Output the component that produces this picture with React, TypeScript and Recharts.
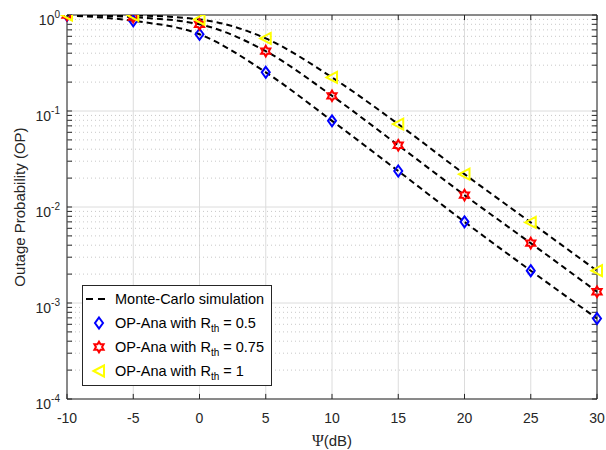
import React from 'react';
import {
  ComposedChart,
  Line,
  Scatter,
  XAxis,
  YAxis,
  CartesianGrid,
  ReferenceLine,
  ReferenceArea,
  Legend,
} from 'recharts';

// ---- data ----
const psiDb = [-10, -5, 0, 5, 10, 15, 20, 25, 30];
const opRth05 = [0.99, 0.87, 0.63, 0.253, 0.079, 0.0237, 0.0070, 0.00217, 0.00069];
const opRth075 = [1.0, 0.95, 0.8, 0.42, 0.144, 0.044, 0.0133, 0.0042, 0.00131];
const opRth1 = [1.0, 0.99, 0.9, 0.57, 0.224, 0.073, 0.022, 0.0069, 0.00217];

const xTicks = [-10, -5, 0, 5, 10, 15, 20, 25, 30];
const yTicks = [1e-4, 1e-3, 1e-2, 1e-1, 1];
const minorDecades = [1e-4, 1e-3, 1e-2, 1e-1];
const minorMantissas = [2, 3, 4, 5, 6, 7, 8, 9];

const legendLabels = ['Monte-Carlo simulation', '0.5', '0.75', '1'];

const table = psiDb.map((x, i) => ({ x, a: opRth05[i], b: opRth075[i], c: opRth1[i] }));
const minorTicks: number[] = [];
minorDecades.forEach((d) => minorMantissas.forEach((m) => minorTicks.push(m * d)));

const X_MIN = -10;
const X_MAX = 30;
const Y_MIN = 1e-4;
const Y_MAX = 1;
const xTickLen = 0.38; // in x data units (~5px)
const yTickFactor = 1.13; // log factor (~5px)

const FONT = '"Liberation Sans", Arial, Helvetica, sans-serif';
const AX = '#262626';

// ---- marker shapes ----
const Diamond = ({ cx, cy }: any) => (
  <path
    d={`M${cx},${cy - 5.5} L${cx + 4},${cy} L${cx},${cy + 5.5} L${cx - 4},${cy} Z`}
    fill="none"
    stroke="#0000FF"
    strokeWidth={2}
  />
);

const Hexagram = ({ cx, cy }: any) => {
  const R = 5.3;
  const r = R / Math.sqrt(3);
  const pts: string[] = [];
  for (let i = 0; i < 12; i++) {
    const ang = (-90 + i * 30) * (Math.PI / 180);
    const rad = i % 2 === 0 ? R : r;
    pts.push(`${cx + rad * Math.cos(ang)},${cy + rad * Math.sin(ang)}`);
  }
  return <polygon points={pts.join(' ')} fill="none" stroke="#FF0000" strokeWidth={2} />;
};

const TriLeft = ({ cx, cy }: any) => (
  <polygon
    points={`${cx - 5.5},${cy} ${cx + 5},${cy - 5.5} ${cx + 5},${cy + 5.5}`}
    fill="none"
    stroke="#FFFF00"
    strokeWidth={2}
  />
);

// ---- ticks ----
const YTick = (props: any) => {
  const { x, y, payload } = props;
  const exp = Math.round(Math.log10(payload.value));
  return (
    <text x={x} y={y + 10} textAnchor="end" fill={AX} fontSize={14} fontFamily={FONT}>
      <tspan>10</tspan>
      <tspan dy={-7} fontSize={10}>
        {exp}
      </tspan>
    </text>
  );
};

const XTick = (props: any) => {
  const { x, y, payload } = props;
  return (
    <text x={x} y={y + 24} textAnchor="middle" fill={AX} fontSize={14} fontFamily={FONT}>
      {payload.value}
    </text>
  );
};

const YLabel = (props: any) => {
  const vb = props.viewBox || {};
  const cy = (vb.y || 0) + (vb.height || 0) / 2;
  return (
    <text
      x={25}
      y={cy}
      transform={`rotate(-90, 25, ${cy})`}
      textAnchor="middle"
      fill={AX}
      fontSize={15}
      fontFamily={FONT}
    >
      Outage Probability (OP)
    </text>
  );
};

const XLabel = (props: any) => {
  const vb = props.viewBox || {};
  const cx = (vb.x || 0) + (vb.width || 0) / 2;
  return (
    <text x={cx} y={(vb.y || 0) + 47} textAnchor="middle" fill={AX} fontSize={15} fontFamily={FONT}>
      <tspan fontFamily='"Liberation Serif", "DejaVu Serif", serif' fontSize={16}>
        Ψ
      </tspan>
      <tspan>(dB)</tspan>
    </text>
  );
};

// ---- legend ----
const LegendBox = () => {
  const row = (icon: React.ReactNode, text: React.ReactNode, key: number) => (
    <div key={key} style={{ display: 'flex', alignItems: 'center', height: 24 }}>
      <svg width={32} height={24} style={{ display: 'block' }}>
        {icon}
      </svg>
      <div style={{ fontSize: 14.5, fontFamily: FONT, color: '#000', whiteSpace: 'nowrap', lineHeight: '16px' }}>
        {text}
      </div>
    </div>
  );
  const rth = (v: string) => (
    <span>
      OP-Ana with R
      <sub style={{ fontSize: 10, verticalAlign: '-4px', lineHeight: 0 }}>th</sub> = {v}
    </span>
  );
  return (
    <div
      style={{
        width: 188,
        height: 98,
        border: `1px solid ${AX}`,
        background: '#fff',
        paddingTop: 1,
        boxSizing: 'content-box',
      }}
    >
      {row(<line x1={3} y1={12} x2={25} y2={12} stroke="#000" strokeWidth={2} strokeDasharray="7 5" />, legendLabels[0], 0)}
      {row(<Diamond cx={16} cy={12} />, rth(legendLabels[1]), 1)}
      {row(<Hexagram cx={16} cy={12} />, rth(legendLabels[2]), 2)}
      {row(<TriLeft cx={16} cy={12} />, rth(legendLabels[3]), 3)}
    </div>
  );
};

export default function App() {
  return (
    <div style={{ position: 'absolute', left: 0, top: 0, width: 606, height: 450, background: '#fff' }}>
      <ComposedChart
        width={606}
        height={450}
        data={table}
        margin={{ top: 15, right: 9, bottom: 0, left: 0 }}
      >
        <CartesianGrid stroke="#dcdcdc" strokeWidth={1} />
        <XAxis
          dataKey="x"
          type="number"
          domain={[X_MIN, X_MAX]}
          ticks={xTicks}
          interval={0}
          height={51}
          axisLine={false}
          tickLine={false}
          tickSize={0}
          tickMargin={0}
          tick={<XTick />}
          label={<XLabel />}
        />
        <YAxis
          type="number"
          scale="log"
          domain={[Y_MIN, Y_MAX]}
          ticks={yTicks}
          interval={0}
          width={67}
          axisLine={false}
          tickLine={false}
          tickSize={0}
          tickMargin={7}
          allowDataOverflow
          tick={<YTick />}
          label={<YLabel />}
        />
        {minorTicks.map((v) => (
          <ReferenceLine key={`mg${v}`} y={v} stroke="#c8c8c8" strokeWidth={1} strokeDasharray="1 3" />
        ))}
        <Line type="monotone" dataKey="a" stroke="#000" strokeWidth={2} strokeDasharray="6 4" dot={false} isAnimationActive={false} legendType="none" />
        <Line type="monotone" dataKey="b" stroke="#000" strokeWidth={2} strokeDasharray="6 4" dot={false} isAnimationActive={false} legendType="none" />
        <Line type="monotone" dataKey="c" stroke="#000" strokeWidth={2} strokeDasharray="6 4" dot={false} isAnimationActive={false} legendType="none" />
        <ReferenceArea x1={X_MIN} x2={X_MAX} y1={Y_MIN} y2={Y_MAX} fill="none" stroke={AX} strokeWidth={1} fillOpacity={0} />
        {xTicks.map((v) => (
          <ReferenceLine key={`xb${v}`} segment={[{ x: v, y: Y_MIN }, { x: v, y: Y_MIN * yTickFactor }]} stroke={AX} strokeWidth={1} />
        ))}
        {xTicks.map((v) => (
          <ReferenceLine key={`xt${v}`} segment={[{ x: v, y: Y_MAX }, { x: v, y: Y_MAX / yTickFactor }]} stroke={AX} strokeWidth={1} />
        ))}
        {[...yTicks, ...minorTicks].map((v) => (
          <ReferenceLine key={`yl${v}`} segment={[{ x: X_MIN, y: v }, { x: X_MIN + xTickLen, y: v }]} stroke={AX} strokeWidth={1} />
        ))}
        {[...yTicks, ...minorTicks].map((v) => (
          <ReferenceLine key={`yr${v}`} segment={[{ x: X_MAX, y: v }, { x: X_MAX - xTickLen, y: v }]} stroke={AX} strokeWidth={1} />
        ))}
        <Scatter dataKey="a" isAnimationActive={false} shape={(p: any) => <Diamond cx={p.cx} cy={p.cy} />} legendType="none" />
        <Scatter dataKey="b" isAnimationActive={false} shape={(p: any) => <Hexagram cx={p.cx} cy={p.cy} />} legendType="none" />
        <Scatter dataKey="c" isAnimationActive={false} shape={(p: any) => <TriLeft cx={p.cx} cy={p.cy} />} legendType="none" />
        <Legend
          layout="vertical"
          align="center"
          verticalAlign="middle"
          content={<LegendBox />}
          wrapperStyle={{ position: 'absolute', left: 82, top: 285, width: 190, height: 100 }}
        />
      </ComposedChart>
    </div>
  );
}
